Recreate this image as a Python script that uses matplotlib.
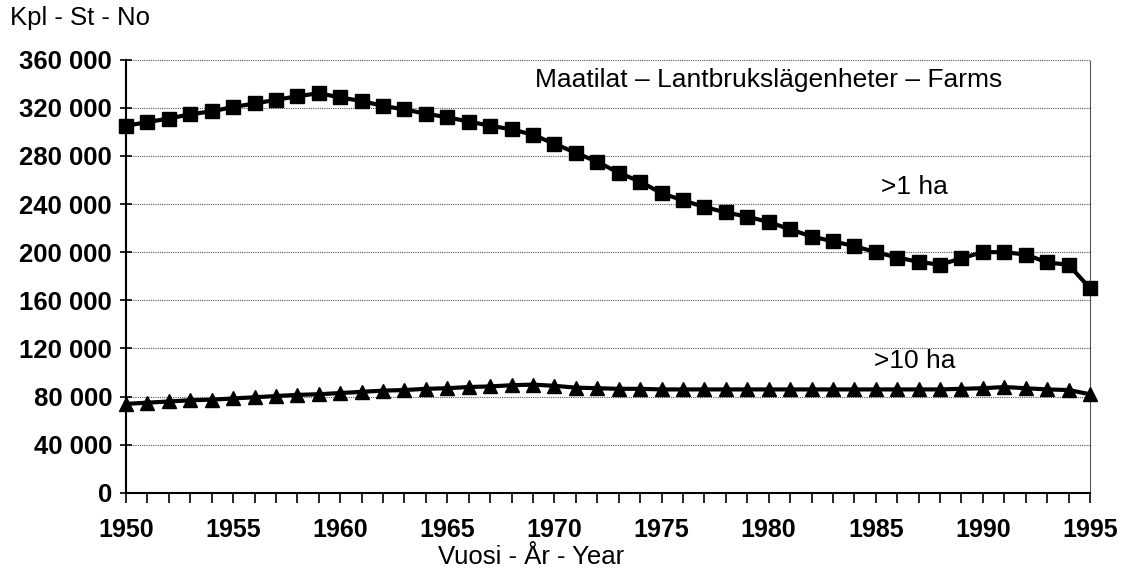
import matplotlib.pyplot as plt
from matplotlib.ticker import FuncFormatter, MultipleLocator

plt.rcParams['font.family'] = ['Liberation Sans', 'DejaVu Sans']

years = list(range(1950, 1996))

# Farms over 1 ha
farms_1ha = [305000, 308000, 311000, 314500, 317000, 320500, 323500, 326500, 329500, 332000,
             328500, 325500, 321500, 318500, 315000, 312000, 308500, 305000, 302000, 297500,
             290000, 282500, 275000, 266000, 258500, 249000, 243000, 237500, 233000, 229500,
             225000, 219000, 213000, 209000, 205000, 200000, 195500, 192000, 189500, 195000,
             200000, 200000, 198000, 191500, 189500, 170000]

# Farms over 10 ha
farms_10ha = [74000, 75000, 76000, 77000, 77500, 78500, 79500, 80500, 81500, 82000,
              83000, 84000, 85000, 85500, 86500, 87000, 88000, 88500, 89500, 90000,
              89000, 87500, 87000, 86500, 86500, 86000, 86000, 86000, 86000, 86000,
              86000, 86000, 86000, 86000, 86000, 86000, 86000, 86000, 86000, 86500,
              87000, 88000, 87000, 86000, 85500, 82000]

fig = plt.figure(figsize=(11.22, 5.69), dpi=100)
ax = fig.add_axes([0.1123, 0.1336, 0.8592, 0.7618])

ax.plot(years, farms_1ha, color='black', linewidth=3, marker='s', markersize=10, clip_on=False, zorder=5)
ax.plot(years, farms_10ha, color='black', linewidth=3, marker='^', markersize=10, clip_on=False, zorder=5)

ax.set_xlim(1950, 1995)
ax.set_ylim(0, 360000)
ax.xaxis.set_major_locator(MultipleLocator(5))
ax.xaxis.set_minor_locator(MultipleLocator(1))
ax.yaxis.set_major_locator(MultipleLocator(40000))
ax.yaxis.set_major_formatter(FuncFormatter(lambda v, p: f"{int(v):,}".replace(",", " ")))

# dotted gridlines like the original spreadsheet chart
ax.grid(axis='y', linestyle=(0, (1, 1)), color='#555555', linewidth=0.8)
for s in ['top', 'right']:
    ax.spines[s].set_linestyle((0, (1, 1)))
    ax.spines[s].set_color('#555555')
    ax.spines[s].set_linewidth(0.8)
ax.spines['top'].set_visible(False)
ax.spines['left'].set_linewidth(1.5)
ax.spines['bottom'].set_linewidth(1.5)

ax.tick_params(axis='y', direction='inout', length=8, width=1.2, labelsize=18.5, pad=6)
ax.tick_params(axis='x', which='both', direction='out', length=7, width=1.2, labelsize=18, pad=11)
for lbl in ax.get_xticklabels() + ax.get_yticklabels():
    lbl.set_fontweight('bold')

fig.text(0.4733, 0.021, "Vuosi - År - Year", fontsize=18.5, va='center', ha='center')
fig.text(0.009, 0.968, "Kpl - St - No", fontsize=18.5, va='center', ha='left')

ax.text(1969.1, 343000, "Maatilat – Lantbrukslägenheter – Farms", fontsize=19, va='center', ha='left')
ax.text(1985.25, 254000, ">1 ha", fontsize=19, va='center', ha='left')
ax.text(1984.9, 109500, ">10 ha", fontsize=19, va='center', ha='left')

plt.savefig("out.png", dpi=100)
plt.close()
